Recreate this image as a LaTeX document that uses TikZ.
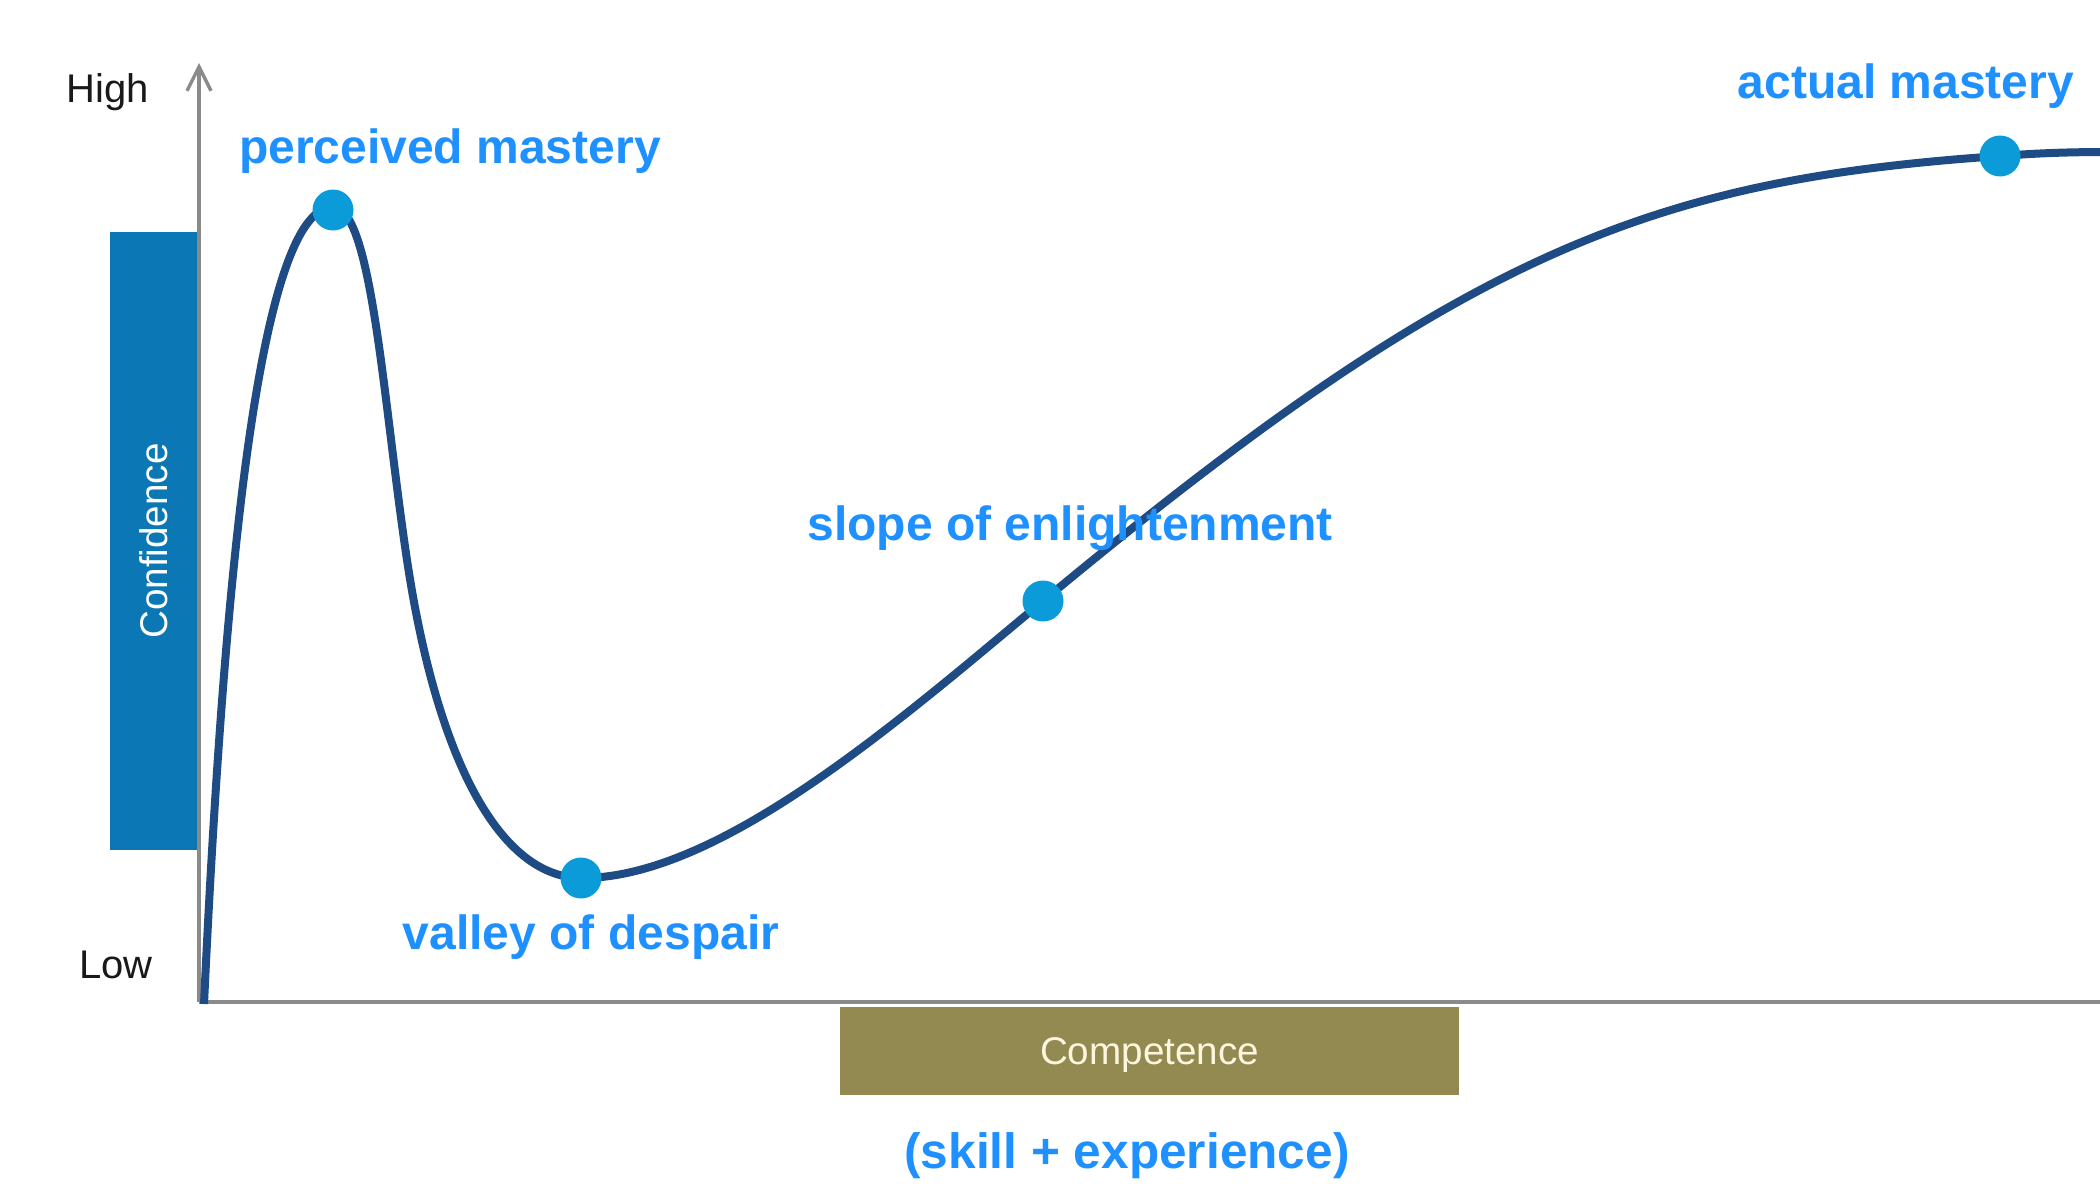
\documentclass[tikz,border=0pt]{standalone}
\usepackage{fontspec}
\setmainfont{Liberation Sans}
\usetikzlibrary{arrows.meta}
\usetikzlibrary{positioning}

\definecolor{curveblue}{HTML}{1F4B84}
\definecolor{dotblue}{HTML}{0B9BD9}
\definecolor{labelblue}{HTML}{1E90FF}
\definecolor{confblue}{HTML}{0B78B5}
\definecolor{compolive}{HTML}{938A52}
\definecolor{axisgray}{HTML}{8A8A8A}

\begin{document}
\begin{tikzpicture}[x=0.5pt,y=-0.5pt,
  phase/.style={text=labelblue,font=\fontsize{24}{28}\selectfont\bfseries,anchor=base,inner sep=0pt},
  level/.style={text=black!90,font=\fontsize{20}{24}\selectfont,anchor=base,inner sep=0pt},
  milestone/.style={circle,fill=dotblue,minimum size=20.5pt,inner sep=0pt},
  bar/.style={inner sep=0pt,text depth=0pt,font=\fontsize{19.3}{23}\selectfont}]
\useasboundingbox (0,0) rectangle (2100,1194);

% axes
\coordinate (o) at (199,1002);
\coordinate (ytop) at (199,63);
\coordinate (xend) at (2100,1002);
\draw[axisgray,line width=1.7pt,-{Straight Barb[length=12pt,width=12pt,line width=1.7pt]}] (o) -- (ytop);
\draw[axisgray,line width=1.7pt] (o) -- (xend);

\node[level] (high) at (108,102) {High};
\node[level] (low) at (116,978) {Low};

% axis bars
\node[bar,fill=confblue,text=white,rotate=90,minimum width=309pt,minimum height=43.5pt] (conf) at (153.5,541) {Confidence};
\node[bar,fill=compolive,text={rgb,255:red,253;green,246;blue,223},minimum width=309.5pt,minimum height=44pt] (comp) at (1149.5,1051) {Competence};

% the curve
\coordinate (start) at (204,1004);
\coordinate (peak) at (333,207);
\coordinate (bend) at (407,560);
\coordinate (valley) at (582,878);
\coordinate (slope) at (1043,601);
\coordinate (top) at (2000,156);
\coordinate (cend) at (2110,152);
\draw[curveblue,line width=4pt]
  (start) .. controls (222,620) and (255,207) .. (peak)
  .. controls (372,207) and (383,400) .. (bend)
  .. controls (437,760) and (500,878) .. (valley)
  .. controls (720,878) and (900,720) .. (slope)
  .. controls (1463,252) and (1650,180) .. (top)
  .. controls (2040,153) and (2070,152) .. (cend);

\node[milestone] (p1) at (333,210) {};
\node[milestone] (p2) at (581,878) {};
\node[milestone] (p3) at (1043,601) {};
\node[milestone] (p4) at (2000,156) {};

\node[phase] (l1) at (450,163) {perceived mastery};
\node[phase] (l2) at (591,949) {valley of despair};
\node[phase] (l3) at (1070,540) {slope of enlightenment};
\node[phase] (l4) at (1906,98) {actual mastery};
\node[phase,font=\fontsize{24.8}{28}\selectfont\bfseries] (skill) at (1127,1168) {(skill + experience)};
\end{tikzpicture}
\end{document}
